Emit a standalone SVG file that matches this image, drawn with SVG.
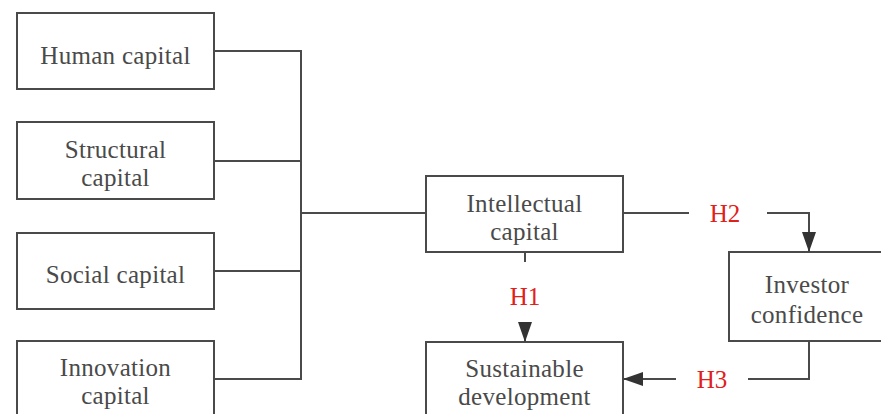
<svg xmlns="http://www.w3.org/2000/svg" width="881" height="414" viewBox="0 0 881 414">
<style>
.box{fill:#fff;stroke:#4a4a4a;stroke-width:2}
.t{font-family:"Liberation Serif","Times New Roman",serif;font-size:25px;fill:#4a4a4a;text-anchor:middle;letter-spacing:0.3px}
.h{font-family:"Liberation Serif","Times New Roman",serif;font-size:25px;fill:#e0201b;text-anchor:middle}
.ln{fill:none;stroke:#4a4a4a;stroke-width:2}
</style>
<defs>
<marker id="arr" markerUnits="userSpaceOnUse" markerWidth="20" markerHeight="14" refX="20" refY="7" orient="auto">
<path d="M0,0 L20,7 L0,14 Z" fill="#333"/>
</marker>
</defs>
<g id="human"><rect class="box" x="17" y="13" width="197" height="76"/><text class="t" x="115.5" y="64">Human capital</text></g>
<g id="structural"><rect class="box" x="17" y="122" width="197" height="77"/><text class="t" x="115.5" y="158">Structural</text><text class="t" x="115.5" y="186">capital</text></g>
<g id="social"><rect class="box" x="17" y="233" width="197" height="76"/><text class="t" x="115.5" y="283">Social capital</text></g>
<g id="innovation"><rect class="box" x="17" y="341" width="197" height="90"/><text class="t" x="115.5" y="376">Innovation</text><text class="t" x="115.5" y="404">capital</text></g>
<g id="intellectual"><rect class="box" x="426" y="176" width="197" height="76"/><text class="t" x="524.5" y="212">Intellectual</text><text class="t" x="524.5" y="240">capital</text></g>
<g id="investor"><rect class="box" x="729" y="252" width="170" height="89"/><text class="t" x="807" y="293">Investor</text><text class="t" x="807" y="323">confidence</text></g>
<g id="sustainable"><rect class="box" x="426" y="342" width="197" height="90"/><text class="t" x="524.5" y="377">Sustainable</text><text class="t" x="524.5" y="405">development</text></g>
<g id="connectors">
<path class="ln" d="M214,51 H301 V379 H214"/>
<path class="ln" d="M214,161 H301"/>
<path class="ln" d="M214,271 H301"/>
<path class="ln" d="M301,213 H426"/>
<path class="ln" d="M623,213 H689"/>
<path class="ln" d="M767,213 H809 V252" marker-end="url(#arr)"/>
<path class="ln" d="M525,252 V262"/>
<path class="ln" d="M525,323 V342" marker-end="url(#arr)"/>
<path class="ln" d="M809,341 V379 H748"/>
<path class="ln" d="M676,379 H623" marker-end="url(#arr)"/>
<text class="h" x="725" y="222">H2</text>
<text class="h" x="525" y="305">H1</text>
<text class="h" x="712" y="388">H3</text>
</g>
</svg>
